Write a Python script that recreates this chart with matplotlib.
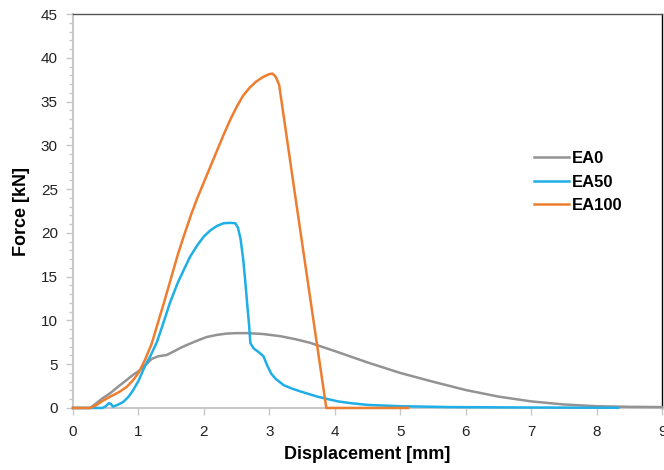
import matplotlib
matplotlib.use("Agg")
from matplotlib import pyplot as plt
from matplotlib.ticker import MultipleLocator

# force-displacement curves
ea0_x = [0, 0.26, 0.35, 0.45, 0.57, 0.7, 0.82, 0.92, 1.02, 1.12, 1.2, 1.3, 1.43,
         1.55, 1.65, 1.74, 1.9, 2.04, 2.2, 2.35, 2.5, 2.66, 2.9, 3.17, 3.4, 3.62,
         3.8, 4.0, 4.5, 5.0, 5.5, 6.0, 6.5, 7.0, 7.5, 8.0, 8.5, 9.0]
ea0_y = [0, 0, 0.5, 1.1, 1.7, 2.5, 3.2, 3.8, 4.3, 5.0, 5.6, 5.9, 6.05,
         6.5, 6.9, 7.2, 7.7, 8.1, 8.35, 8.5, 8.55, 8.55, 8.45, 8.2, 7.85, 7.45,
         7.0, 6.5, 5.2, 4.0, 3.0, 2.05, 1.3, 0.75, 0.4, 0.2, 0.13, 0.1]

ea50_x = [0, 0.45, 0.5, 0.55, 0.58, 0.61, 0.68, 0.77, 0.85, 0.92, 1.0, 1.07, 1.12,
          1.18, 1.28, 1.38, 1.48, 1.6, 1.7, 1.79, 1.9, 2.0, 2.1, 2.2, 2.3, 2.4,
          2.48, 2.52, 2.56, 2.6, 2.63, 2.66, 2.69, 2.71, 2.76, 2.85, 2.91, 2.97,
          3.03, 3.1, 3.22, 3.35, 3.47, 3.6, 3.73, 3.9, 4.05, 4.24, 4.5, 5.0,
          5.76, 7.0, 8.33]
ea50_y = [0, 0, 0.2, 0.55, 0.45, 0.15, 0.35, 0.7, 1.3, 2.05, 3.1, 4.3, 5.1,
          5.9, 7.5, 9.7, 12.0, 14.3, 15.9, 17.3, 18.6, 19.6, 20.3, 20.8, 21.1, 21.15,
          21.1, 20.6, 19.3, 17.0, 14.6, 12.0, 9.5, 7.4, 6.8, 6.3, 5.9, 4.8,
          3.9, 3.3, 2.6, 2.2, 1.9, 1.6, 1.3, 1.0, 0.75, 0.55, 0.35, 0.2,
          0.1, 0.05, 0.02]

ea100_x = [0, 0.26, 0.35, 0.45, 0.57, 0.7, 0.82, 0.92, 1.0, 1.1, 1.2, 1.3, 1.4,
           1.5, 1.6, 1.7, 1.8, 1.9, 2.0, 2.1, 2.2, 2.3, 2.4, 2.5, 2.6, 2.7,
           2.8, 2.9, 3.0, 3.05, 3.1, 3.15, 3.38, 3.87, 5.12]
ea100_y = [0, 0, 0.3, 0.8, 1.3, 1.8, 2.4, 3.2, 4.0, 5.5, 7.3, 9.8, 12.3,
           14.9, 17.5, 19.8, 22.0, 24.0, 25.8, 27.6, 29.4, 31.2, 32.9, 34.4, 35.7, 36.6,
           37.3, 37.8, 38.15, 38.2, 37.8, 36.9, 25.0, 0, 0]

fam = ['Liberation Sans Narrow', 'Liberation Sans', 'DejaVu Sans']
plt.rcParams['font.family'] = fam

fig = plt.figure(figsize=(6.64, 4.70), dpi=100)
ax = fig.add_axes([0.110, 0.132, 0.887, 0.838])

ax.plot(ea0_x, ea0_y, color='#939393', lw=1.8, label='EA0', clip_on=False, zorder=3)
ax.plot(ea50_x, ea50_y, color='#1FAEE6', lw=1.8, label='EA50', clip_on=False, zorder=3)
ax.plot(ea100_x, ea100_y, color='#EE7D2F', lw=1.8, label='EA100', clip_on=False, zorder=3)

ax.set_xlim(0, 9)
ax.set_ylim(0, 45)
ax.xaxis.set_major_locator(MultipleLocator(1))
ax.yaxis.set_major_locator(MultipleLocator(5))
ax.yaxis.set_minor_locator(MultipleLocator(1))

for s in ['left', 'bottom']:
    ax.spines[s].set_color('#c8c8c8')
    ax.spines[s].set_linewidth(1.5)
ax.spines['top'].set_color('#555555')
ax.spines['top'].set_linewidth(1.0)
ax.spines['right'].set_color('black')
ax.spines['right'].set_linewidth(1.0)

ax.tick_params(axis='both', which='major', length=5, width=1, color='#c8c8c8',
               labelsize=11, labelcolor='#222222', pad=6)
ax.tick_params(axis='y', which='minor', length=3, width=1, color='#c8c8c8')
ax.tick_params(axis='x', which='major', pad=7)

ax.set_xlabel('Displacement [mm]', fontsize=13, fontweight='bold', labelpad=5)
ax.set_ylabel('Force [kN]', fontsize=13, fontweight='bold', labelpad=8)

ax.legend(loc='upper left', bbox_to_anchor=(0.757, 0.69), frameon=False,
          prop={'family': fam, 'weight': 'bold', 'size': 12},
          handlelength=2.1, handletextpad=0.2, labelspacing=0.5)

fig.savefig("out.png", dpi=100)
